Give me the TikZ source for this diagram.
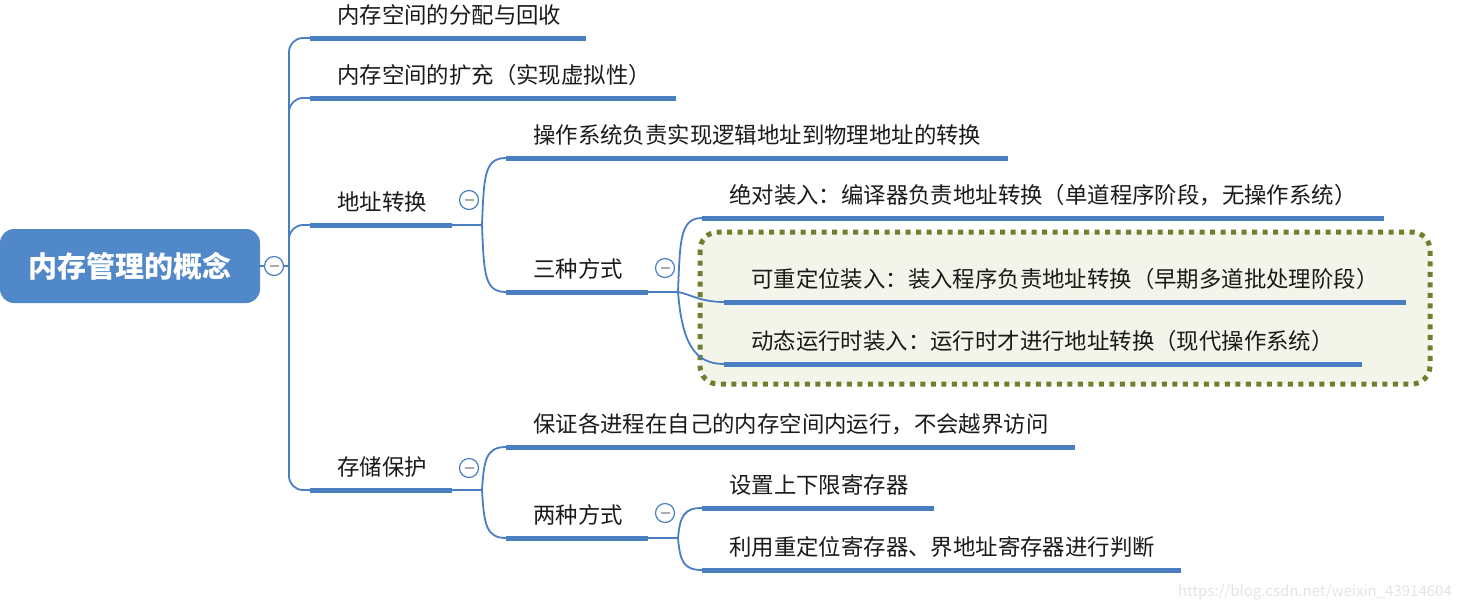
\documentclass[tikz,border=0pt]{standalone}
\usepackage{fontspec}
\setmainfont{Noto Sans CJK SC}
\usetikzlibrary{positioning,calc}
\definecolor{mapblue}{HTML}{4A7EC2}
\definecolor{rootblue}{HTML}{5088C9}
\definecolor{grpolive}{HTML}{6E7F2E}
\definecolor{grpfill}{HTML}{F3F5EA}
\definecolor{ink}{HTML}{1A1A1A}

\tikzset{
  bar/.style={fill=mapblue,inner sep=0pt,minimum height=5pt,anchor=west},
  lbl/.style={anchor=base west,inner sep=0pt,text=ink,font=\fontsize{22.4}{24}\selectfont},
  link/.style={draw=mapblue,line width=1.8pt},
  fold/.style={circle,draw=mapblue,line width=1.2pt,fill=white,minimum size=19pt,inner sep=0pt,
    path picture={\draw[gray!65,line width=1.8pt]
      ([xshift=-4.5pt]path picture bounding box.center) --
      ([xshift=4.5pt]path picture bounding box.center);}},
}

\begin{document}
\begin{tikzpicture}[x=1pt,y=-1pt]
  \useasboundingbox (0,0) rectangle (1466,603);

  \draw[draw=grpolive,fill=grpfill,line width=5pt,dash pattern=on 5pt off 5.5pt,
    rounded corners=18pt] (700,232) rectangle (1430,384);

  \node[fill=rootblue,rounded corners=14pt,minimum width=260pt,minimum height=74pt,
    inner sep=0pt,text=white,font=\fontsize{29}{30}\selectfont\bfseries]
    (root) at (130,266) {内存管理的概念};
  \node[fold] (root-f) at (274,266) {};
  \coordinate (j0) at (289,266);
  \draw[link] (root.east) -- (root-f.west);
  \draw[link] (root-f.east) -- (j0);

  \node[bar,minimum width=276pt] (alloc) at (310,38) {};
  \node[lbl] (alloc-t) at (337,23) {内存空间的分配与回收};
  \node[bar,minimum width=366pt] (expand) at (310,98) {};
  \node[lbl] (expand-t) at (337,83) {内存空间的扩充（实现虚拟性）};
  \node[bar,minimum width=142pt] (trans) at (310,225) {};
  \node[lbl] (trans-t) at (337,210) {地址转换};
  \node[fold] (trans-f) at (469,200) {};
  \node[bar,minimum width=142pt] (prot) at (310,490) {};
  \node[lbl] (prot-t) at (337,475) {存储保护};
  \node[fold] (prot-f) at (469,468) {};

  \draw[link,rounded corners=14pt] (j0) |- (alloc.west);
  \draw[link,rounded corners=14pt] (j0) |- (expand.west);
  \draw[link,rounded corners=14pt] (j0) |- (trans.west);
  \draw[link,rounded corners=14pt] (j0) |- (prot.west);

  \coordinate (j1) at (482,225);
  \draw[link] (trans.east) -- (j1);
  \node[bar,minimum width=502pt] (os) at (506,158) {};
  \node[lbl] (os-t) at (533,143) {操作系统负责实现逻辑地址到物理地址的转换};
  \node[bar,minimum width=142pt] (three) at (506,292) {};
  \node[lbl] (three-t) at (533,277) {三种方式};
  \node[fold] (three-f) at (665,268) {};
  \draw[link] (j1) .. controls +(2,-48) and +(-22,0) .. (os.west);
  \draw[link] (j1) .. controls +(2,48) and +(-22,0) .. (three.west);

  \coordinate (j2) at (678,292);
  \draw[link] (three.east) -- (j2);
  \node[bar,minimum width=682pt] (abs) at (702,218) {};
  \node[lbl] (abs-t) at (729,203) {绝对装入：编译器负责地址转换（单道程序阶段，无操作系统）};
  \node[bar,minimum width=682pt] (reloc) at (724,302) {};
  \node[lbl] (reloc-t) at (751,287) {可重定位装入：装入程序负责地址转换（早期多道批处理阶段）};
  \node[bar,minimum width=638pt] (dyn) at (724,364) {};
  \node[lbl] (dyn-t) at (751,349) {动态运行时装入：运行时才进行地址转换（现代操作系统）};
  \draw[link] (j2) .. controls +(2,-52) and +(-22,0) .. (abs.west);
  \draw[link] (j2) .. controls +(12,2) and +(-24,0) .. (reloc.west);
  \draw[link] (j2) .. controls +(4,50) and +(-30,0) .. (dyn.west);

  \coordinate (j3) at (482,490);
  \draw[link] (prot.east) -- (j3);
  \node[bar,minimum width=569pt] (guard) at (506,447) {};
  \node[lbl] (guard-t) at (533,432) {保证各进程在自己的内存空间内运行，不会越界访问};
  \node[bar,minimum width=142pt] (two) at (506,538) {};
  \node[lbl] (two-t) at (533,523) {两种方式};
  \node[fold] (two-f) at (665,513) {};
  \draw[link] (j3) .. controls +(2,-30) and +(-20,0) .. (guard.west);
  \draw[link] (j3) .. controls +(2,34) and +(-20,0) .. (two.west);

  \coordinate (j4) at (678,538);
  \draw[link] (two.east) -- (j4);
  \node[bar,minimum width=232pt] (bound) at (702,508) {};
  \node[lbl] (bound-t) at (729,493) {设置上下限寄存器};
  \node[bar,minimum width=479pt] (limit) at (702,570) {};
  \node[lbl] (limit-t) at (729,555) {利用重定位寄存器、界地址寄存器进行判断};
  \draw[link] (j4) .. controls +(2,-22) and +(-18,0) .. (bound.west);
  \draw[link] (j4) .. controls +(2,24) and +(-18,0) .. (limit.west);

  \node[anchor=south east,inner sep=0pt,text=gray!22,font=\fontsize{15}{16}\selectfont]
    (mark) at (1452,600) {https://blog.csdn.net/weixin\_43914604};
\end{tikzpicture}
\end{document}
